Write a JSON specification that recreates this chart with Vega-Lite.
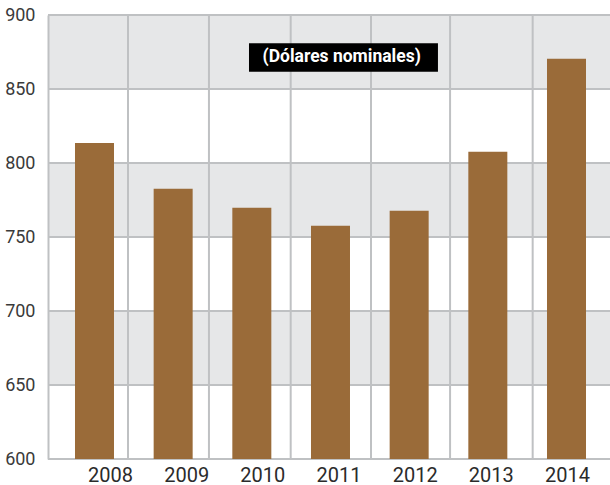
{
  "$schema": "https://vega.github.io/schema/vega-lite/v6.json",
  "width": 562,
  "height": 444,
  "autosize": {"type": "none"},
  "padding": {"left": 48, "top": 15, "right": 0, "bottom": 26},
  "background": "white",
  "config": {"view": {"stroke": null}},
  "datasets": {
    "bars": [
      {"year": 2008, "value": 813.5},
      {"year": 2009, "value": 782.6},
      {"year": 2010, "value": 769.8},
      {"year": 2011, "value": 757.6},
      {"year": 2012, "value": 767.8},
      {"year": 2013, "value": 807.6},
      {"year": 2014, "value": 870.5}
    ],
    "bands": [
      {"lo": 850, "hi": 900},
      {"lo": 750, "hi": 800},
      {"lo": 650, "hi": 700}
    ],
    "hgrid": [
      {"v": 600}, {"v": 650}, {"v": 700}, {"v": 750}, {"v": 800}, {"v": 850}, {"v": 900}
    ],
    "vgrid": [
      {"x": 2008.426}, {"x": 2009.455}, {"x": 2010.494}, {"x": 2011.515}, {"x": 2012.52}, {"x": 2013.57}
    ],
    "note": [
      {"x1": 2009.964, "x2": 2012.366, "y1": 861.7, "y2": 880.9, "tx": 2011.142, "ty": 871.3, "label": "(Dólares nominales)"}
    ]
  },
  "resolve": {"scale": {"x": "independent"}, "axis": {"x": "independent"}},
  "layer": [
    {
      "layer": [
        {
          "data": {"name": "bands"},
          "mark": {"type": "rect", "color": "#e6e7e8"},
          "encoding": {
            "y": {"field": "lo", "type": "quantitative", "scale": {"domain": [600, 900], "zero": false, "nice": false}},
            "y2": {"field": "hi"}
          }
        },
        {
          "data": {"name": "hgrid"},
          "mark": {"type": "rule", "color": "#bfc1c3", "strokeWidth": 2},
          "encoding": {
            "y": {"field": "v", "type": "quantitative"}
          }
        },
        {
          "data": {"name": "vgrid"},
          "mark": {"type": "rule", "color": "#bfc1c3", "strokeWidth": 2},
          "encoding": {
            "x": {"field": "x", "type": "quantitative", "scale": {"domain": [2007.409, 2014.553], "nice": false, "zero": false, "padding": 0}, "axis": null}
          }
        },
        {
          "data": {"name": "bars"},
          "mark": {"type": "bar", "color": "#9a6b39", "width": 39},
          "encoding": {
            "x": {"field": "year", "type": "quantitative", "axis": null},
            "y": {
              "field": "value", "type": "quantitative",
              "axis": {
                "title": null, "values": [600, 650, 700, 750, 800, 850, 900],
                "grid": false, "ticks": false, "domain": true, "domainColor": "#bfc1c3", "domainWidth": 2,
                "labelFont": "Roboto", "labelFontSize": 18, "labelColor": "#3a3a3a",
                "labelPadding": 13, "zindex": 1
              }
            },
            "y2": {"datum": 600}
          }
        },
        {
          "data": {"name": "note"},
          "mark": {"type": "rect", "color": "#000000"},
          "encoding": {
            "x": {"field": "x1", "type": "quantitative"},
            "x2": {"field": "x2"},
            "y": {"field": "y1", "type": "quantitative"},
            "y2": {"field": "y2"}
          }
        },
        {
          "data": {"name": "note"},
          "mark": {"type": "text", "color": "white", "font": "Roboto", "fontWeight": "bold", "fontSize": 17.5, "align": "center", "baseline": "middle"},
          "encoding": {
            "x": {"field": "tx", "type": "quantitative"},
            "y": {"field": "ty", "type": "quantitative"},
            "text": {"field": "label"}
          }
        }
      ]
    },
    {
      "data": {"name": "bars"},
      "mark": {"type": "point", "opacity": 0},
      "encoding": {
        "x": {
          "field": "year", "type": "quantitative",
          "scale": {"domain": [2007.186, 2014.565], "nice": false, "zero": false, "padding": 0},
          "axis": {
            "orient": "bottom", "title": null, "values": [2008, 2009, 2010, 2011, 2012, 2013, 2014], "format": "d",
            "domain": false, "ticks": false, "grid": false,
            "labelFont": "Roboto", "labelFontSize": 20, "labelColor": "#2b2b2b",
            "labelPadding": 6, "labelBaseline": "top", "labelFlush": false, "labelOverlap": false
          }
        },
        "y": {"field": "value", "type": "quantitative"}
      }
    }
  ]
}
